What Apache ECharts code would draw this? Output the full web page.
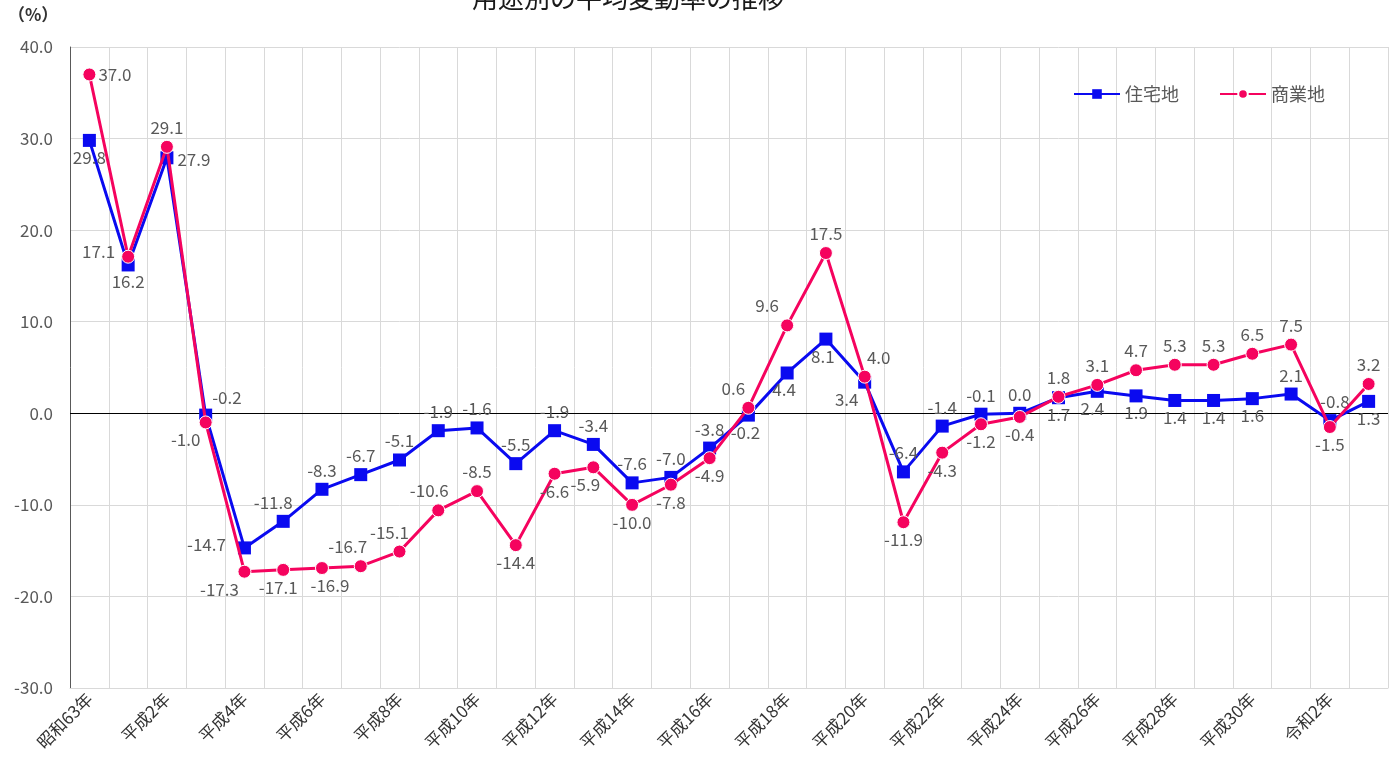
<!DOCTYPE html>
<html>
<head>
<meta charset="utf-8">
<script src="https://cdn.jsdelivr.net/npm/echarts@6/dist/echarts.min.js"></script>
<style>
  html, body { margin: 0; padding: 0; background: #fff; }
  #chart { width: 1399px; height: 775px; }
</style>
</head>
<body>
<div id="chart"></div>
<script>
// Survey years
const years = [
  '昭和63年', '平成元年', '平成2年', '平成3年', '平成4年', '平成5年', '平成6年', '平成7年',
  '平成8年', '平成9年', '平成10年', '平成11年', '平成12年', '平成13年', '平成14年', '平成15年',
  '平成16年', '平成17年', '平成18年', '平成19年', '平成20年', '平成21年', '平成22年', '平成23年',
  '平成24年', '平成25年', '平成26年', '平成27年', '平成28年', '平成29年', '平成30年', '令和元年',
  '令和2年', '令和3年'
];

// Average change rate (%) by land use
const residential = [
  29.8, 16.2, 27.9, -0.2, -14.7, -11.8, -8.3, -6.7, -5.1, -1.9, -1.6, -5.5, -1.9, -3.4, -7.6, -7.0,
  -3.8, -0.2, 4.4, 8.1, 3.4, -6.4, -1.4, -0.1, 0.0, 1.7, 2.4, 1.9, 1.4, 1.4, 1.6, 2.1, -0.8, 1.3
];
const commercial = [
  37.0, 17.1, 29.1, -1.0, -17.3, -17.1, -16.9, -16.7, -15.1, -10.6, -8.5, -14.4, -6.6, -5.9, -10.0, -7.8,
  -4.9, 0.6, 9.6, 17.5, 4.0, -11.9, -4.3, -1.2, -0.4, 1.8, 3.1, 4.7, 5.3, 5.3, 6.5, 7.5, -1.5, 3.2
];

const yTicks = { min: -30, max: 40, interval: 10 };

// Where each value label sits relative to its marker: [position, dx, dy]
const resLabelPlace = [
  ['bottom', 0, -2], ['bottom', 0, -2], ['right', 0, 2], ['right', -4, -18], ['left', -8, -3],
  ['top', -10, 0], ['top', 0, 0], ['top', 0, 0], ['top', 0, 0], ['top', 0, 0], ['top', 0, 0],
  ['top', 0, 0], ['top', 0, 0], ['top', 0, 0], ['top', 0, 0], ['top', 0, 0], ['top', 0, 0],
  ['bottom', -3, -2], ['bottom', -3, -2], ['bottom', -3, -2], ['bottom', -18, -2], ['top', 0, 0],
  ['top', 0, 0], ['top', 0, 0], ['top', 0, 0], ['bottom', 0, -2], ['bottom', -5, -2], ['bottom', 0, -2],
  ['bottom', 0, -2], ['bottom', 0, -2], ['bottom', 0, -2], ['top', 0, 0], ['top', 5, 0], ['bottom', 0, -2]
];
const comLabelPlace = [
  ['right', -2, 0], ['left', -2, -5], ['top', 0, 0], ['bottom', -20, -2], ['bottom', -25, -2],
  ['bottom', -5, -2], ['bottom', 8, -2], ['top', -13, 0], ['top', -10, 0], ['top', -9, 0], ['top', 0, 0],
  ['bottom', 0, -2], ['bottom', 0, -2], ['bottom', -8, -2], ['bottom', 0, -2], ['bottom', 0, -2],
  ['bottom', 0, -2], ['top', -15, 0], ['top', -20, 0], ['top', 0, 0], ['top', 14, 0], ['bottom', 0, -2],
  ['bottom', 0, -2], ['bottom', 0, -2], ['bottom', 0, -2], ['top', 0, 0], ['top', 0, 0], ['top', 0, 0],
  ['top', 0, 0], ['top', 0, 0], ['top', 0, 0], ['top', 0, 0], ['bottom', 0, -2], ['top', 0, 0]
];

const FONT = '"Noto Sans CJK JP", "Noto Sans", sans-serif';
const LABEL_COLOR = '#595959';

function withLabels(values, places) {
  return values.map((v, i) => ({
    value: v,
    label: {
      position: places[i][0],
      offset: [places[i][1], places[i][2]]
    }
  }));
}

const chart = echarts.init(document.getElementById('chart'));

chart.setOption({
  backgroundColor: '#ffffff',
  animation: false,
  textStyle: { fontFamily: FONT },
  title: {
    text: '用途別の平均変動率の推移',
    left: 467,
    top: -20,
    textStyle: { fontFamily: FONT, fontSize: 26, fontWeight: 'normal', color: '#1a1a1a' }
  },
  graphic: [{
    type: 'text',
    left: 8,
    top: 6,
    style: { text: '（%）', font: 'bold 17px ' + FONT, fill: '#333333' }
  }],
  legend: {
    left: 1068,
    top: 80,
    itemWidth: 46,
    itemHeight: 12,
    itemGap: 40,
    textStyle: { fontFamily: FONT, fontSize: 18, color: LABEL_COLOR },
    data: ['住宅地', '商業地']
  },
  grid: { left: 70, right: 11, top: 47, bottom: 87, containLabel: false },
  xAxis: {
    type: 'category',
    data: years,
    boundaryGap: true,
    axisLine: { onZero: false, lineStyle: { color: '#d9d9d9', width: 1 } },
    axisTick: { show: false },
    axisLabel: {
      interval: 1,
      rotate: 45,
      margin: 8,
      fontFamily: FONT,
      fontSize: 17,
      color: '#333333'
    },
    splitLine: { show: true, interval: 0, lineStyle: { color: '#d9d9d9', width: 1 } }
  },
  yAxis: {
    type: 'value',
    min: yTicks.min,
    max: yTicks.max,
    interval: yTicks.interval,
    axisLine: { show: true, lineStyle: { color: '#595959', width: 1 } },
    axisTick: { show: false },
    axisLabel: {
      formatter: v => v.toFixed(1),
      fontFamily: FONT,
      fontSize: 17,
      color: LABEL_COLOR,
      margin: 17
    },
    splitLine: { show: true, lineStyle: { color: '#d9d9d9', width: 1 } }
  },
  series: [
    {
      name: '住宅地',
      type: 'line',
      data: withLabels(residential, resLabelPlace),
      symbol: 'rect',
      symbolSize: 13,
      lineStyle: { color: '#0a0af0', width: 3 },
      itemStyle: { color: '#0a0af0' },
      z: 3,
      label: {
        show: true,
        formatter: p => p.value.toFixed(1),
        fontFamily: FONT,
        fontSize: 17,
        color: LABEL_COLOR,
        distance: 4
      },
      markLine: {
        silent: true,
        symbol: 'none',
        label: { show: false },
        lineStyle: { color: '#000000', width: 1, type: 'solid' },
        data: [{ yAxis: 0 }],
        z: 1
      }
    },
    {
      name: '商業地',
      type: 'line',
      data: withLabels(commercial, comLabelPlace),
      symbol: 'circle',
      symbolSize: 13,
      lineStyle: { color: '#f5035e', width: 3 },
      itemStyle: { color: '#f5035e', borderColor: '#ffffff', borderWidth: 1 },
      z: 4,
      label: {
        show: true,
        formatter: p => p.value.toFixed(1),
        fontFamily: FONT,
        fontSize: 17,
        color: LABEL_COLOR,
        distance: 4
      }
    }
  ]
});
</script>
</body>
</html>
